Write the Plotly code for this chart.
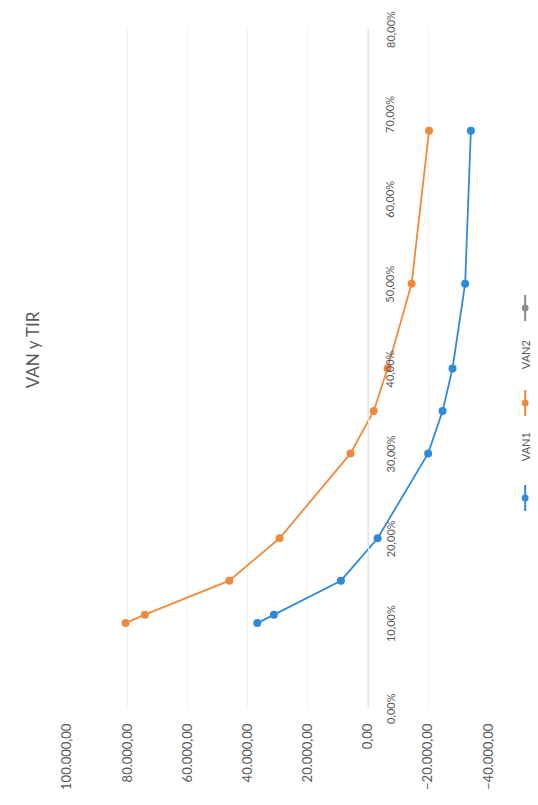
import plotly.graph_objects as go

# Discount rates and net present values of the two projects
tasas = [0.10, 0.11, 0.15, 0.20, 0.30, 0.35, 0.40, 0.50, 0.68]
van1 = [36800, 31300, 9000, -3200, -20000, -24800, -28100, -32300, -34200]
van2 = [80600, 74200, 46100, 29400, 5800, -1900, -6500, -14500, -20300]

van_ticks = [100000, 80000, 60000, 40000, 20000, 0, -20000, -40000]
tasa_ticks = [0.0, 0.1, 0.2, 0.3, 0.4, 0.5, 0.6, 0.7, 0.8]

AZUL = "#2f8ad9"
NARANJA = "#f08a3a"
GRIS = "#595959"
W, H = 538, 805


def px(x):
    return x / W


def py(y):
    return 1 - y / H


fig = go.Figure()

# The chart is drawn turned a quarter turn: VAN runs across, the rate runs up
fig.add_trace(go.Scatter(x=van1, y=tasas, mode="lines+markers", name="VAN1",
                         line=dict(color=AZUL, width=1.8),
                         marker=dict(color=AZUL, size=8)))
fig.add_trace(go.Scatter(x=van2, y=tasas, mode="lines+markers", name="VAN2",
                         line=dict(color=NARANJA, width=1.8),
                         marker=dict(color=NARANJA, size=8)))

x_dom = [px(60), px(494)]
y_dom = [py(708), py(29)]
x_cero = x_dom[0] + (x_dom[1] - x_dom[0]) * (100000 / 140000)

fig.update_layout(
    width=W, height=H,
    margin=dict(l=0, r=0, t=0, b=0),
    paper_bgcolor="white", plot_bgcolor="white",
    showlegend=False,
    font=dict(family="Lato, Open Sans, sans-serif", color=GRIS, size=11),
    separators=",.",
    xaxis=dict(
        domain=x_dom, range=[100000, -40000], autorange=False,
        tickvals=van_ticks, tickformat=",.2f", tickangle=-90,
        tickfont=dict(size=13),
        showgrid=True, gridcolor="#f1f1f1", gridwidth=1,
        zeroline=False, showline=False, ticks="",
        anchor="y", side="bottom", ticklabelstandoff=12,
    ),
    yaxis=dict(
        domain=y_dom, range=[0, 0.8], autorange=False,
        tickvals=tasa_ticks, showticklabels=False,
        showgrid=False, zeroline=False,
        showline=True, linecolor="#e3e3e3", linewidth=1,
        ticks="", anchor="free", position=x_cero,
    ),
)

# Rate labels sit beside the VAN = 0 axis, centred on each tick and turned
for t in tasa_ticks:
    fig.add_annotation(text=f"{t * 100:.2f}%".replace(".", ","),
                       x=x_cero, xref="paper", y=t, yref="y",
                       xshift=22, xanchor="center", yanchor="middle",
                       showarrow=False, textangle=-90,
                       font=dict(size=11, color=GRIS))

# Title, rotated with the chart
fig.add_annotation(text="VAN y TIR", x=px(25), y=py(350), xref="paper", yref="paper",
                   xanchor="center", yanchor="middle",
                   showarrow=False, textangle=-90,
                   font=dict(size=17, color=GRIS))

# Legend keys, turned like the rest of the chart
entradas = [("VAN1", AZUL, 498, 447), ("VAN2", NARANJA, 403, 355), ("", "#8c8c8c", 308, 262)]
for nombre, color, ym, yt in entradas:
    fig.add_shape(type="line", xref="paper", yref="paper",
                  x0=px(532), x1=px(532), y0=py(ym - 13), y1=py(ym + 13),
                  line=dict(color=color, width=2))
    fig.add_shape(type="circle", xref="paper", yref="paper",
                  x0=px(528.5), x1=px(535.5), y0=py(ym - 3.5), y1=py(ym + 3.5),
                  fillcolor=color, line=dict(color=color, width=0))
    if nombre:
        fig.add_annotation(text=nombre, x=px(532), y=py(yt), xref="paper", yref="paper",
                           xanchor="center", yanchor="middle",
                           showarrow=False, textangle=-90,
                           font=dict(size=11, color=GRIS))

fig.write_html("out.html")
